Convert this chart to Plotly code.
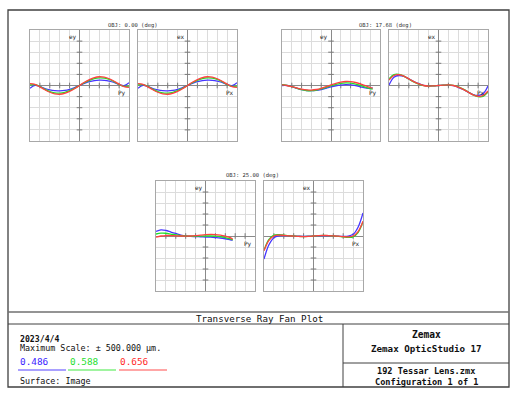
import plotly.graph_objects as go

# ---------------- data (µm) ----------------
P_FULL = [-1.0, -0.9, -0.8, -0.7, -0.6, -0.5, -0.4, -0.3, -0.2, -0.1, 0.0,
          0.1, 0.2, 0.3, 0.4, 0.5, 0.6, 0.7, 0.8, 0.9, 1.0]
P_17Y = [-1.0, -0.9, -0.8, -0.7, -0.6, -0.5, -0.4, -0.3, -0.2, -0.1, 0.0,
         0.1, 0.2, 0.3, 0.4, 0.5, 0.6, 0.7, 0.8, 0.85]
P_25Y = [-1.0, -0.9, -0.8, -0.7, -0.6, -0.5, -0.4, -0.3, -0.2, -0.1, 0.0,
         0.1, 0.2, 0.3, 0.4, 0.5, 0.55]

# OBJ 0.00 deg (ey and ex identical on axis)
ey0_blue = [-25, 2, -8, -27, -40, -47, -48, -44, -34, -18, 0, 18, 34, 44, 48, 47, 40, 27, 8, -2, 25]
ey0_green = [5, 8, -8, -34, -55, -66, -68, -61, -46, -25, 0, 25, 46, 61, 68, 66, 55, 34, 8, -8, -5]
ey0_red = [16, 10, -12, -38, -61, -75, -79, -71, -53, -29, 0, 29, 53, 71, 79, 75, 61, 38, 12, -10, -16]
ex0_blue = [-25, 2, -8, -27, -40, -47, -48, -44, -34, -18, 0, 18, 34, 44, 48, 47, 40, 27, 8, -2, 25]
ex0_green = [5, 8, -8, -34, -55, -66, -68, -61, -46, -25, 0, 25, 46, 61, 68, 66, 55, 34, 8, -8, -5]
ex0_red = [16, 10, -12, -38, -61, -75, -79, -71, -53, -29, 0, 29, 53, 71, 79, 75, 61, 38, 12, -10, -16]

# OBJ 17.68 deg
ey17_blue = [0, 0, -10, -24, -37, -45, -47, -44, -36, -25, -13, -3, 4, 7, 5, -2, -12, -22, -28, -20]
ey17_green = [8, 2, -10, -24, -37, -45, -47, -42, -31, -17, -2, 10, 19, 23, 21, 13, 1, -14, -28, -33]
ey17_red = [5, 0, -10, -22, -33, -40, -41, -36, -25, -10, 5, 20, 31, 36, 35, 27, 14, -2, -18, -24]
ex17_blue = [5, 75, 90, 82, 60, 36, 16, 2, -4, -3, 0, 3, 4, -2, -16, -36, -60, -82, -90, -75, -5]
ex17_green = [60, 98, 100, 85, 58, 32, 12, -1, -5, -3, 0, 3, 5, 1, -12, -32, -58, -85, -100, -98, -60]
ex17_red = [50, 90, 97, 85, 60, 35, 15, 0, -5, -3, 0, 3, 5, 0, -15, -35, -60, -85, -97, -90, -50]

# OBJ 25.00 deg
ey25_blue = [41, 55, 50, 36, 23, 9, 0, -4, -5, -7, -9, -11, -14, -18, -25, -34, -38]
ey25_green = [18, 26, 25, 18, 10, 4, 0, -2, -2, -1, 0, 0, -2, -6, -14, -26, -35]
ey25_red = [-10, 0, 4, 4, 2, 0, -1, 0, 3, 8, 12, 14, 13, 8, -1, -14, -30]
ex25_blue = [-210, -80, -15, 2, 4, 2, 0, -2, -3, -2, 0, 2, 3, 2, 0, -2, -4, -2, 15, 80, 210]
ex25_green = [-130, -30, 8, 12, 8, 3, 0, -3, -5, -3, 0, 3, 5, 3, 0, -3, -8, -12, -8, 30, 130]
ex25_red = [-135, -40, 0, 8, 6, 2, -1, -4, -6, -4, 0, 4, 6, 4, 1, -2, -6, -8, 0, 40, 135]

WAVELENGTHS = ["0.486", "0.588", "0.656"]
TITLES = ["OBJ: 0.00 (deg)", "OBJ: 17.68 (deg)", "OBJ: 25.00 (deg)"]
GRID_X = [-0.8, -0.6, -0.4, -0.2, 0.2, 0.4, 0.6, 0.8]
GRID_Y = [-400, -300, -200, -100, 100, 200, 300, 400]
SCALE = 500

# ---------------- styling ----------------
W, H = 514, 395
C_BLUE, C_GREEN, C_RED = "#4636ff", "#22e02a", "#ff4040"
FONT = "DejaVu Sans Mono"

def px(x):
    return x / W

def py(y):
    return 1 - y / H

# panel boxes in pixels: (x0, x1, y0, y1)
panels = [
    (30, 129, 30, 141, P_FULL, [ey0_blue, ey0_green, ey0_red], "ey", "Py"),
    (138, 237, 30, 141, P_FULL, [ex0_blue, ex0_green, ex0_red], "ex", "Px"),
    (282, 380, 30, 141, P_17Y, [ey17_blue, ey17_green, ey17_red], "ey", "Py"),
    (389, 488, 30, 141, P_FULL, [ex17_blue, ex17_green, ex17_red], "ex", "Px"),
    (156, 255, 181, 291, P_25Y, [ey25_blue, ey25_green, ey25_red], "ey", "Py"),
    (264, 363, 181, 291, P_FULL, [ex25_blue, ex25_green, ex25_red], "ex", "Px"),
]

fig = go.Figure()
layout = dict(width=W, height=H, margin=dict(l=0, r=0, t=0, b=0),
              paper_bgcolor="white", plot_bgcolor="white", showlegend=False,
              font=dict(family=FONT, color="#202020"))
annotations = []

for i, (x0, x1, y0, y1, pupil, series, ylab, xlab) in enumerate(panels):
    n = i + 1
    xa = "x" if n == 1 else f"x{n}"
    ya = "y" if n == 1 else f"y{n}"
    layout[f"xaxis{n}" if n > 1 else "xaxis"] = dict(
        domain=[px(x0), px(x1)], range=[-1, 1], anchor=ya,
        showgrid=True, gridcolor="#dcdcdc", gridwidth=1, dtick=0.2, tick0=0,
        zeroline=True, zerolinecolor="#8a8a8a", zerolinewidth=1,
        showline=True, linecolor="#a8a8a8", linewidth=1, mirror=True,
        showticklabels=False, ticks="", fixedrange=True)
    layout[f"yaxis{n}" if n > 1 else "yaxis"] = dict(
        domain=[py(y1), py(y0)], range=[-SCALE, SCALE], anchor=xa,
        showgrid=True, gridcolor="#dcdcdc", gridwidth=1, dtick=100, tick0=0,
        zeroline=True, zerolinecolor="#8a8a8a", zerolinewidth=1,
        showline=True, linecolor="#a8a8a8", linewidth=1, mirror=True,
        showticklabels=False, ticks="", fixedrange=True)
    # small tick marks on the centre axes
    fig.add_trace(go.Scatter(x=[0] * len(GRID_Y), y=GRID_Y, mode="markers", xaxis=xa, yaxis=ya,
                             marker=dict(symbol="line-ew-open", size=4, color="#7a7a7a",
                                         line=dict(width=1, color="#7a7a7a")),
                             hoverinfo="skip"))
    fig.add_trace(go.Scatter(x=GRID_X, y=[0] * len(GRID_X), mode="markers", xaxis=xa, yaxis=ya,
                             marker=dict(symbol="line-ns-open", size=4, color="#7a7a7a",
                                         line=dict(width=1, color="#7a7a7a")),
                             hoverinfo="skip"))
    for vals, col, wl in zip(series, [C_BLUE, C_GREEN, C_RED], WAVELENGTHS):
        fig.add_trace(go.Scatter(x=pupil, y=vals, mode="lines", name=wl, xaxis=xa, yaxis=ya,
                                 line=dict(color=col, width=1.3, shape="spline", smoothing=1.0)))
    annotations.append(dict(text=ylab, xref=xa, yref=ya, x=0, y=SCALE, xanchor="right",
                            yanchor="top", xshift=-1, yshift=-1, showarrow=False,
                            font=dict(size=6, family=FONT, color="#202020")))
    annotations.append(dict(text=xlab, xref=xa, yref=ya, x=1, y=0, xanchor="right",
                            yanchor="top", xshift=-1, yshift=-2, showarrow=False,
                            font=dict(size=6, family=FONT, color="#202020")))

# panel-pair titles
for title, (cx, cy) in zip(TITLES, [(133, 25), (385, 25), (252, 176)]):
    annotations.append(dict(text=title, xref="paper", yref="paper", x=px(cx), y=py(cy),
                            xanchor="center", yanchor="middle", showarrow=False,
                            font=dict(size=5.5, family=FONT, color="#303030")))

# ---------------- frame ----------------
FR = "#404040"
shapes = [
    dict(type="rect", xref="paper", yref="paper", x0=px(8), x1=px(509), y0=py(387), y1=py(10),
         line=dict(color=FR, width=1.3)),
    dict(type="line", xref="paper", yref="paper", x0=px(8), x1=px(509), y0=py(312), y1=py(312),
         line=dict(color="#707070", width=1.5)),
    dict(type="line", xref="paper", yref="paper", x0=px(8), x1=px(509), y0=py(324), y1=py(324),
         line=dict(color=FR, width=1)),
    dict(type="line", xref="paper", yref="paper", x0=px(343), x1=px(343), y0=py(324), y1=py(387),
         line=dict(color=FR, width=1)),
    dict(type="line", xref="paper", yref="paper", x0=px(343), x1=px(509), y0=py(363), y1=py(363),
         line=dict(color=FR, width=1)),
    # legend colour bars
    dict(type="line", xref="paper", yref="paper", x0=px(18), x1=px(66), y0=py(370), y1=py(370),
         line=dict(color="#8c80ff", width=1.5)),
    dict(type="line", xref="paper", yref="paper", x0=px(68), x1=px(116), y0=py(370), y1=py(370),
         line=dict(color="#80f080", width=1.5)),
    dict(type="line", xref="paper", yref="paper", x0=px(119), x1=px(167), y0=py(370), y1=py(370),
         line=dict(color="#ff8888", width=1.5)),
]

def txt(s, x, y, size, anchor="left", color="#101010", bold=False):
    if bold:
        s = f"<b>{s}</b>"
    annotations.append(dict(text=s, xref="paper", yref="paper", x=px(x), y=py(y),
                            xanchor=anchor, yanchor="middle", showarrow=False,
                            font=dict(size=size, family=FONT, color=color)))

txt("Transverse Ray Fan Plot", 259, 318, 9.2, "center")
txt("2023/4/4", 18, 339, 8.2, bold=True)
txt("Maximum Scale: ± 500.000 µm.", 18, 348, 8.4)
txt(WAVELENGTHS[0], 18, 361, 9.4, color="#3a22ff")
txt(WAVELENGTHS[1], 68, 361, 9.4, color="#1fe030")
txt(WAVELENGTHS[2], 118, 361, 9.4, color="#ff2a2a")
txt("Surface: Image", 18, 381, 8.4)
txt("Zemax", 426, 334, 9.6, "center", bold=True)
txt("Zemax OpticStudio 17", 426, 348, 9.2, "center", bold=True)
txt("192 Tessar Lens.zmx", 426, 370.5, 8.6, "center", bold=True)
txt("Configuration 1 of 1", 426, 381.5, 8.6, "center", bold=True)

layout["annotations"] = annotations
layout["shapes"] = shapes
fig.update_layout(**layout)
fig.write_html("out.html", config={"displayModeBar": False, "staticPlot": True},
               post_script="document.body.style.margin='0';document.body.style.overflow='hidden';")
